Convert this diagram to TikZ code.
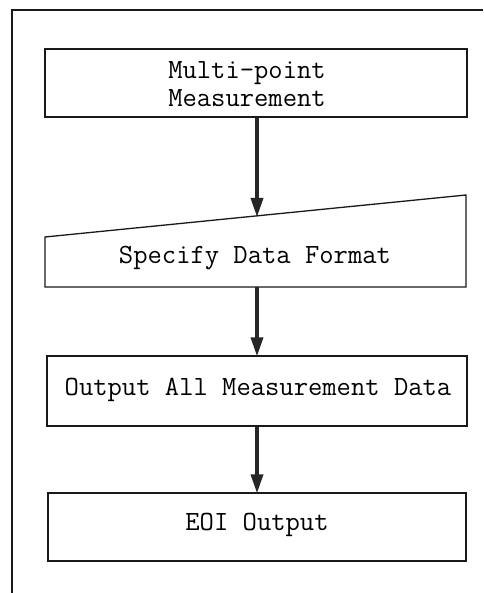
\documentclass[tikz,border=0pt]{standalone}
\usepackage{fontspec}
\usetikzlibrary{arrows.meta}
\begin{document}
\begin{tikzpicture}[x=1pt,y=-1pt,
  every node/.style={font=\fontsize{27.8}{28.5}\selectfont\ttfamily},
  boxline/.style={draw=black!90, line width=1.3pt},
  frameline/.style={draw=black!90, line width=1.5pt},
  flow/.style={draw=black!85, line width=3.5pt, -{Triangle[length=19pt,width=12pt]}, shorten >=-1pt},
  txt/.style={inner sep=0pt, align=left}]
\useasboundingbox (0,0) rectangle (483,593);
% frame
\draw[frameline] (12,593) -- (12,10) -- (483,10);
% box 1
\node[boxline, minimum width=422pt, minimum height=68pt, inner sep=0pt] (b1) at (256,83) {};
\node[txt] (t1) at (247,84) {Multi-point\\Measurement};
% trapezoid
\coordinate (tl) at (45,237);
\coordinate (tr) at (466,195);
\coordinate (br) at (466,287);
\coordinate (bl) at (45,287);
\draw[boxline, line join=miter] (tl) -- (tr) -- (br) -- (bl) -- cycle;
\node[txt] (t2) at (255,258) {Specify Data Format};
\coordinate (in2) at (257,216);
\coordinate (out2) at (257,287);
% box 3
\node[boxline, minimum width=420pt, minimum height=70pt, inner sep=0pt] (b3) at (257,391) {};
\node[txt] (t3) at (258,390) {Output All Measurement Data};
% box 4
\node[boxline, minimum width=418pt, minimum height=68pt, inner sep=0pt] (b4) at (257,527) {};
\node[txt] (t4) at (257,525) {EOI Output};
% arrows
\draw[flow] (b1.south -| in2) -- (in2);
\draw[flow] (out2) -- (b3.north -| out2);
\draw[flow] (b3.south -| out2) -- (b4.north -| out2);
\end{tikzpicture}
\end{document}
